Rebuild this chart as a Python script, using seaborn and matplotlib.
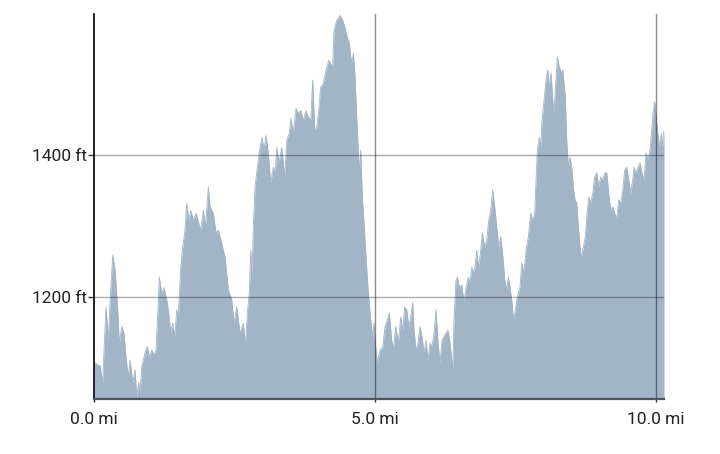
import matplotlib
matplotlib.use("Agg")
import matplotlib.pyplot as plt
import seaborn as sns
import pandas as pd

distance_mi = [
    0.000, 0.018, 0.048, 0.107, 0.155, 0.178, 0.214, 0.254, 0.285, 0.333, 0.374, 0.415, 0.450,
    0.493, 0.534, 0.569, 0.610, 0.641, 0.689, 0.730, 0.760, 0.795, 0.819, 0.849, 0.877, 0.907,
    0.948, 0.984, 1.027, 1.068, 1.103, 1.144, 1.162, 1.205, 1.246, 1.294, 1.329, 1.365, 1.400,
    1.436, 1.472, 1.500, 1.543, 1.578, 1.619, 1.649, 1.685, 1.721, 1.767, 1.815, 1.863, 1.897,
    1.945, 1.980, 2.016, 2.034, 2.064, 2.123, 2.171, 2.212, 2.272, 2.331, 2.390, 2.450, 2.491,
    2.539, 2.598, 2.657, 2.692, 2.728, 2.763, 2.788, 2.811, 2.835, 2.865, 2.906, 2.954, 2.989,
    3.025, 3.060, 3.101, 3.144, 3.190, 3.226, 3.251, 3.292, 3.340, 3.393, 3.429, 3.475, 3.505,
    3.546, 3.594, 3.635, 3.678, 3.724, 3.772, 3.813, 3.856, 3.891, 3.927, 3.963, 3.998, 4.034,
    4.080, 4.128, 4.176, 4.247, 4.270, 4.319, 4.377, 4.425, 4.466, 4.507, 4.543, 4.568, 4.591,
    4.614, 4.644, 4.674, 4.703, 4.721, 4.746, 4.774, 4.804, 4.840, 4.881, 4.923, 4.959, 4.982,
    5.005, 5.041, 5.089, 5.137, 5.178, 5.219, 5.254, 5.297, 5.326, 5.368, 5.415, 5.457, 5.493,
    5.528, 5.564, 5.600, 5.635, 5.671, 5.694, 5.730, 5.765, 5.801, 5.836, 5.872, 5.907, 5.943,
    5.979, 6.014, 6.050, 6.085, 6.121, 6.157, 6.192, 6.228, 6.263, 6.299, 6.335, 6.383, 6.406,
    6.441, 6.464, 6.500, 6.543, 6.584, 6.619, 6.660, 6.690, 6.721, 6.749, 6.779, 6.810, 6.838,
    6.868, 6.909, 6.952, 6.988, 7.023, 7.059, 7.094, 7.130, 7.165, 7.201, 7.237, 7.272, 7.308,
    7.343, 7.372, 7.402, 7.438, 7.461, 7.496, 7.532, 7.580, 7.610, 7.651, 7.687, 7.728, 7.770,
    7.806, 7.842, 7.865, 7.888, 7.924, 7.948, 7.972, 8.007, 8.043, 8.073, 8.101, 8.132, 8.162,
    8.185, 8.215, 8.244, 8.279, 8.315, 8.340, 8.363, 8.386, 8.411, 8.440, 8.470, 8.500, 8.528,
    8.559, 8.589, 8.617, 8.648, 8.671, 8.706, 8.742, 8.778, 8.802, 8.838, 8.874, 8.909, 8.945,
    8.980, 9.016, 9.052, 9.087, 9.123, 9.158, 9.194, 9.230, 9.265, 9.301, 9.336, 9.372, 9.408,
    9.443, 9.479, 9.514, 9.550, 9.585, 9.609, 9.644, 9.680, 9.715, 9.751, 9.786, 9.822, 9.858,
    9.893, 9.923, 9.952, 9.977, 10.012, 10.041, 10.071, 10.094, 10.119, 10.142,
]

elevation_ft = [
    1100, 1107, 1105, 1103, 1079, 1125, 1186, 1139, 1192, 1259, 1238, 1192, 1135,
    1158, 1149, 1115, 1087, 1111, 1079, 1097, 1059, 1079, 1065, 1101, 1111, 1121,
    1130, 1115, 1125, 1118, 1125, 1192, 1228, 1205, 1213, 1196, 1177, 1149, 1163,
    1144, 1182, 1172, 1242, 1270, 1294, 1332, 1308, 1322, 1308, 1318, 1304, 1294,
    1322, 1299, 1334, 1355, 1327, 1318, 1290, 1294, 1276, 1256, 1210, 1196, 1163,
    1186, 1149, 1163, 1130, 1177, 1205, 1266, 1228, 1299, 1355, 1383, 1411, 1425,
    1407, 1428, 1403, 1361, 1383, 1375, 1411, 1389, 1411, 1369, 1421, 1431, 1452,
    1431, 1466, 1459, 1463, 1449, 1463, 1454, 1449, 1506, 1435, 1439, 1463, 1496,
    1501, 1520, 1534, 1524, 1576, 1590, 1597, 1590, 1580, 1566, 1558, 1538, 1530,
    1544, 1510, 1454, 1407, 1375, 1407, 1341, 1304, 1256, 1205, 1168, 1144, 1163,
    1135, 1107, 1125, 1130, 1158, 1168, 1177, 1139, 1125, 1158, 1135, 1172, 1153,
    1186, 1182, 1158, 1172, 1192, 1153, 1125, 1135, 1158, 1144, 1121, 1139, 1111,
    1135, 1130, 1149, 1182, 1135, 1107, 1139, 1144, 1149, 1153, 1135, 1097, 1168,
    1224, 1228, 1214, 1217, 1192, 1214, 1228, 1220, 1242, 1234, 1242, 1266, 1242,
    1256, 1290, 1270, 1280, 1308, 1322, 1351, 1327, 1299, 1270, 1285, 1259, 1224,
    1210, 1228, 1214, 1192, 1168, 1182, 1200, 1214, 1248, 1234, 1266, 1285, 1318,
    1308, 1318, 1365, 1407, 1425, 1411, 1449, 1477, 1506, 1520, 1496, 1516, 1477,
    1459, 1501, 1538, 1524, 1516, 1520, 1501, 1482, 1421, 1383, 1397, 1383, 1355,
    1337, 1332, 1299, 1270, 1255, 1270, 1285, 1322, 1341, 1332, 1346, 1369, 1375,
    1355, 1369, 1365, 1375, 1375, 1346, 1322, 1327, 1318, 1311, 1337, 1332, 1351,
    1379, 1383, 1365, 1346, 1365, 1383, 1375, 1383, 1389, 1375, 1365, 1403, 1393,
    1407, 1435, 1463, 1475, 1445, 1425, 1411, 1431, 1411, 1435,
]

x_ticks = [0, 5, 10]
x_tick_labels = ["0.0 mi", "5.0 mi", "10.0 mi"]
y_ticks = [1200, 1400]
y_tick_labels = ["1200 ft", "1400 ft"]

df = pd.DataFrame({"distance": distance_mi, "elevation": elevation_ft})

sns.set_theme(style="white")
plt.rcParams["font.family"] = ["Roboto", "DejaVu Sans"]

fill_color = "#a2b5c7"
fig = plt.figure(figsize=(7.2, 4.54), dpi=100)
ax = fig.add_axes([94 / 720, 1 - 399 / 454, (664 - 94) / 720, (399 - 14) / 454])

y_min, y_max = 1056, 1599
sns.lineplot(data=df, x="distance", y="elevation", ax=ax, color=fill_color, linewidth=0.6)
ax.fill_between(df["distance"], df["elevation"], y_min, color=fill_color, linewidth=0)

ax.set_xlim(0, max(distance_mi))
ax.set_ylim(y_min, y_max)
ax.set_xlabel("")
ax.set_ylabel("")

ax.set_xticks(x_ticks)
ax.set_xticklabels(x_tick_labels)
ax.set_yticks(y_ticks)
ax.set_yticklabels(y_tick_labels)

for t in y_ticks:
    ax.axhline(t, color="#000000", alpha=0.33, linewidth=1.0, zorder=5)
for t in x_ticks[1:]:
    ax.axvline(t, color="#000000", alpha=0.45, linewidth=1.0, zorder=5)

for side in ["top", "right"]:
    ax.spines[side].set_visible(False)
ax.spines["left"].set_color("#000000")
ax.spines["left"].set_linewidth(1.2)
ax.spines["left"].set_zorder(6)
ax.spines["bottom"].set_color("#4a5560")
ax.spines["bottom"].set_linewidth(1.6)
ax.spines["bottom"].set_zorder(6)

ax.tick_params(axis="both", which="both", width=1, color="#333333",
               labelsize=12.5, labelcolor="#222222", bottom=True, left=True)
ax.tick_params(axis="x", length=2.5, pad=6.8)
ax.tick_params(axis="y", length=4.3, pad=1.0)

fig.savefig("out.png", dpi=100)
